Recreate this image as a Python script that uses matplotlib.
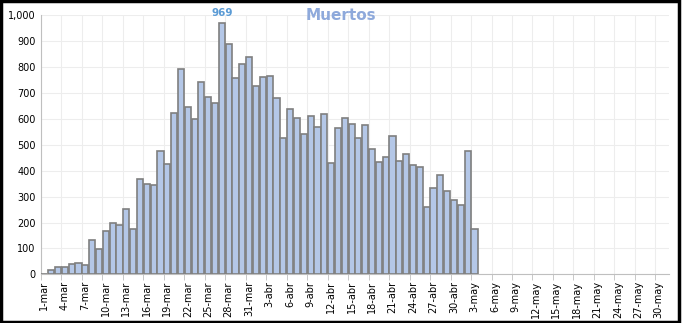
import numpy as np
import pandas as pd
import matplotlib
matplotlib.use("Agg")
import matplotlib.pyplot as plt
from matplotlib.patches import Rectangle

# daily deaths from 1-mar onwards
muertos = [3, 15, 27, 28, 39, 45, 35, 131, 97, 166,
           197, 189, 251, 174, 367, 347, 344, 475, 425, 624,
           791, 647, 598, 741, 683, 660, 969, 889, 757, 811,
           838, 726, 761, 764, 680, 525, 637, 602, 541, 610,
           568, 618, 428, 564, 602, 579, 525, 575, 483, 432,
           452, 533, 436, 463, 422, 413, 259, 332, 382, 320,
           286, 266, 475, 174]

fechas = pd.date_range("2020-03-01", "2020-05-31", freq="D")
meses = {3: "mar", 4: "abr", 5: "may"}
etiquetas = [f"{d.day}-{meses[d.month]}" for d in fechas]

fig = plt.figure(figsize=(6.82, 3.23), dpi=100)
ax = fig.add_axes([41 / 682, 1 - 274.3 / 323, 628 / 682, 259 / 323])

x = np.arange(len(muertos))
ax.bar(x, muertos, width=0.9, color="#B4C7E7", edgecolor="#7F7F7F", linewidth=1.2, zorder=3)

# peak label
imax = int(np.argmax(muertos))
ax.text(imax, muertos[imax] + 22, f"{muertos[imax]}", ha="center", va="bottom",
        color="#5B9BD5", fontsize=7.5, fontweight="bold")

ax.set_xlim(-0.5, len(fechas) - 0.5)
ax.set_ylim(0, 1000)
ax.set_yticks(np.arange(0, 1001, 100))
ax.set_yticklabels([f"{v:,}" for v in range(0, 1001, 100)], fontsize=7)

pos = np.arange(0, len(fechas), 3)
ax.set_xticks(pos)
ax.set_xticklabels([etiquetas[i] for i in pos], rotation=90, fontsize=7)
ax.set_xticks(pos - 0.5, minor=True)
ax.tick_params(axis="x", which="major", length=0, pad=5)
ax.tick_params(axis="x", which="minor", length=4, color="#BFBFBF")
ax.tick_params(axis="y", length=0, pad=4)

ax.grid(axis="y", color="#EDEDED", linewidth=0.8, zorder=0)
ax.grid(axis="x", which="minor", color="#EDEDED", linewidth=0.8, zorder=0)
ax.grid(axis="x", which="major", visible=False)

for s in ["top", "right"]:
    ax.spines[s].set_visible(False)
ax.spines["left"].set_color("#BFBFBF")
ax.spines["bottom"].set_color("#BFBFBF")

fig.text(341 / 682, 1 - 16 / 323, "Muertos", ha="center", va="center",
         fontsize=11, fontweight="bold", color="#8EA9DB")

fig.patches.append(Rectangle((0.002, 0.004), 0.994, 0.992, transform=fig.transFigure,
                             fill=False, edgecolor="black", linewidth=2.5))

fig.savefig("out.png", dpi=100)
